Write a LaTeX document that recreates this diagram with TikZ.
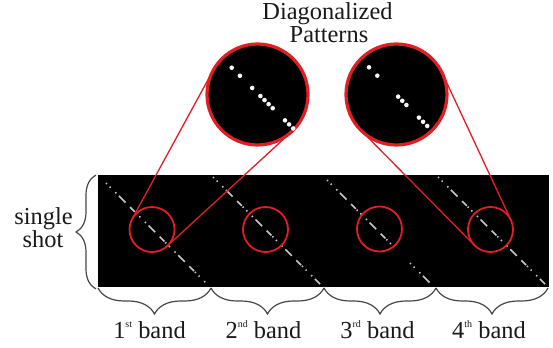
\documentclass[tikz,border=0pt]{standalone}
\usepackage{fontspec}
\setmainfont{Liberation Serif}
\usetikzlibrary{calc,decorations.pathreplacing}

\definecolor{zoomred}{RGB}{225,30,35}
\definecolor{dotgray}{RGB}{200,200,200}
\definecolor{bracegray}{RGB}{70,70,70}
\definecolor{textgray}{RGB}{25,25,25}
\newcommand{\ordsup}[1]{\raisebox{0.9ex}{\fontsize{5}{5}\selectfont #1}}

\begin{document}
\begin{tikzpicture}[
x=0.5pt,y=-0.5pt,
txt/.style={font=\fontsize{12.2}{12}\selectfont,text=textgray,inner sep=0pt,anchor=base},
shotbox/.style={fill=black,inner sep=0pt,minimum width=225.5pt,minimum height=56pt},
lens/.style={circle,draw=zoomred,line width=0.9pt,inner sep=0pt,minimum size=22.5pt},
zoomview/.style={circle,draw=zoomred,fill=black,line width=1.6pt,inner sep=0pt,minimum size=50.5pt},
zoomline/.style={draw=zoomred,line width=0.65pt},
zoomdot/.style={fill=white!92!gray},
diag/.style={draw=dotgray,line width=0.75pt,dash pattern=on 0.7pt off 1.92pt on 0.7pt off 3.23pt on 0.7pt off 1.92pt on 4.63pt off 3.23pt on 3.32pt off 0.61pt},
bandbrace/.style={decorate,decoration={brace,amplitude=13pt},draw=bracegray,line width=0.6pt},
shotbrace/.style={decorate,decoration={brace,amplitude=10pt},draw=bracegray,line width=0.6pt}
]
\useasboundingbox (0,0) rectangle (553,348);

\node[shotbox] (shotarea) at (323.5,231) {};

% diagonals of the four bands
\draw[diag] (106,183) -- (206,283);
\draw[diag] (213,177) -- (320,284);
\draw[diag] (327,180) -- (393,246);
\draw[diag] (410,263) -- (430,283);
\draw[diag] (438,177) -- (545,284);

\node[lens] (lensA) at (152,229.5) {};
\node[lens] (lensB) at (265.5,229.5) {};
\node[lens] (lensC) at (379.5,229) {};
\node[lens] (lensD) at (490.5,229.5) {};

\node[zoomview] (zoomA) at (257.5,94.5) {};
\node[zoomview] (zoomB) at (396.5,94.5) {};

\foreach \k in {0,2,5,7,8,9,10,13,14,15}
  \fill[zoomdot] ({231.7+4.1*\k},{67.7+4.05*\k}) circle (2.3);
\foreach \k in {0,2,7,8,9,12,13,14}
  \fill[zoomdot] ({369+4.16*\k},{67.3+4.19*\k}) circle (2.3);

\coordinate (tA1) at ($(zoomA)+(208.6:50.5)$);
\coordinate (tA2) at ($(lensA)+(208.6:22.5)$);
\coordinate (tA3) at ($(zoomA)+(47.4:50.5)$);
\coordinate (tA4) at ($(lensA)+(47.4:22.5)$);
\coordinate (tB1) at ($(zoomB)+(135.3:50.5)$);
\coordinate (tB2) at ($(lensD)+(135.3:22.5)$);
\coordinate (tB3) at ($(zoomB)+(-25:50.5)$);
\coordinate (tB4) at ($(lensD)+(-25:22.5)$);

\draw[zoomline] (tA1) -- (tA2);
\draw[zoomline] (tA3) -- (tA4);
\draw[zoomline] (tB1) -- (tB2);
\draw[zoomline] (tB3) -- (tB4);

\draw[shotbrace] (96,289) -- (96,175);
\draw[bandbrace] (211,288) -- (98,288);
\draw[bandbrace] (324,288) -- (211,288);
\draw[bandbrace] (436,288) -- (324,288);
\draw[bandbrace] (548,288) -- (436,288);

\node[txt] (title1) at (327.5,19) {Diagonalized};
\node[txt] (title2) at (329,42.5) {Patterns};
\node[txt] (singletxt) at (43.5,224) {single};
\node[txt] (shottxt) at (43,248) {shot};

\node[txt] (band1) at (149.5,338) {1\ordsup{st} band};
\node[txt] (band2) at (263.5,338) {2\ordsup{nd} band};
\node[txt] (band3) at (377.5,338) {3\ordsup{rd} band};
\node[txt] (band4) at (489,338) {4\ordsup{th} band};

\end{tikzpicture}
\end{document}
